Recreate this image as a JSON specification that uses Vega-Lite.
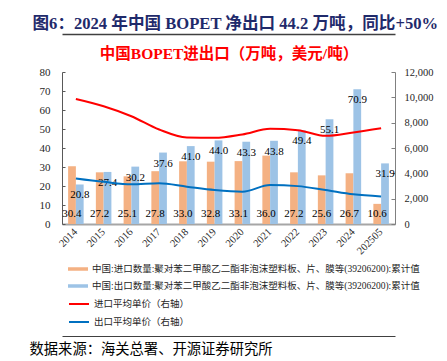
{
  "$schema": "https://vega.github.io/schema/vega-lite/v6.json",
  "width": 333,
  "height": 152,
  "autosize": {"type": "none"},
  "padding": {"left": 62, "top": 72, "right": 52, "bottom": 137},
  "background": "white",
  "config": {
    "view": {"stroke": null},
    "axis": {"grid": false},
    "font": "Liberation Serif, Noto Sans CJK SC"
  },
  "datasets": {
    "qty": [
      {"year": "2014", "series": "中国:进口数量:聚对苯二甲酸乙二酯非泡沫塑料板、片、膜等(39206200):累计值", "value": 30.4},
      {"year": "2015", "series": "中国:进口数量:聚对苯二甲酸乙二酯非泡沫塑料板、片、膜等(39206200):累计值", "value": 27.2},
      {"year": "2016", "series": "中国:进口数量:聚对苯二甲酸乙二酯非泡沫塑料板、片、膜等(39206200):累计值", "value": 25.1},
      {"year": "2017", "series": "中国:进口数量:聚对苯二甲酸乙二酯非泡沫塑料板、片、膜等(39206200):累计值", "value": 27.8},
      {"year": "2018", "series": "中国:进口数量:聚对苯二甲酸乙二酯非泡沫塑料板、片、膜等(39206200):累计值", "value": 33.0},
      {"year": "2019", "series": "中国:进口数量:聚对苯二甲酸乙二酯非泡沫塑料板、片、膜等(39206200):累计值", "value": 32.8},
      {"year": "2020", "series": "中国:进口数量:聚对苯二甲酸乙二酯非泡沫塑料板、片、膜等(39206200):累计值", "value": 33.1},
      {"year": "2021", "series": "中国:进口数量:聚对苯二甲酸乙二酯非泡沫塑料板、片、膜等(39206200):累计值", "value": 36.0},
      {"year": "2022", "series": "中国:进口数量:聚对苯二甲酸乙二酯非泡沫塑料板、片、膜等(39206200):累计值", "value": 27.2},
      {"year": "2023", "series": "中国:进口数量:聚对苯二甲酸乙二酯非泡沫塑料板、片、膜等(39206200):累计值", "value": 25.6},
      {"year": "2024", "series": "中国:进口数量:聚对苯二甲酸乙二酯非泡沫塑料板、片、膜等(39206200):累计值", "value": 26.7},
      {"year": "202505", "series": "中国:进口数量:聚对苯二甲酸乙二酯非泡沫塑料板、片、膜等(39206200):累计值", "value": 10.6},
      {"year": "2014", "series": "中国:出口数量:聚对苯二甲酸乙二酯非泡沫塑料板、片、膜等(39206200):累计值", "value": 20.8},
      {"year": "2015", "series": "中国:出口数量:聚对苯二甲酸乙二酯非泡沫塑料板、片、膜等(39206200):累计值", "value": 27.4},
      {"year": "2016", "series": "中国:出口数量:聚对苯二甲酸乙二酯非泡沫塑料板、片、膜等(39206200):累计值", "value": 30.2},
      {"year": "2017", "series": "中国:出口数量:聚对苯二甲酸乙二酯非泡沫塑料板、片、膜等(39206200):累计值", "value": 37.6},
      {"year": "2018", "series": "中国:出口数量:聚对苯二甲酸乙二酯非泡沫塑料板、片、膜等(39206200):累计值", "value": 41.0},
      {"year": "2019", "series": "中国:出口数量:聚对苯二甲酸乙二酯非泡沫塑料板、片、膜等(39206200):累计值", "value": 44.0},
      {"year": "2020", "series": "中国:出口数量:聚对苯二甲酸乙二酯非泡沫塑料板、片、膜等(39206200):累计值", "value": 43.3},
      {"year": "2021", "series": "中国:出口数量:聚对苯二甲酸乙二酯非泡沫塑料板、片、膜等(39206200):累计值", "value": 43.8},
      {"year": "2022", "series": "中国:出口数量:聚对苯二甲酸乙二酯非泡沫塑料板、片、膜等(39206200):累计值", "value": 49.4},
      {"year": "2023", "series": "中国:出口数量:聚对苯二甲酸乙二酯非泡沫塑料板、片、膜等(39206200):累计值", "value": 55.1},
      {"year": "2024", "series": "中国:出口数量:聚对苯二甲酸乙二酯非泡沫塑料板、片、膜等(39206200):累计值", "value": 70.9},
      {"year": "202505", "series": "中国:出口数量:聚对苯二甲酸乙二酯非泡沫塑料板、片、膜等(39206200):累计值", "value": 31.9}
    ],
    "price": [
      {"year": "2014", "series": "进口平均单价（右轴）", "price": 9870},
      {"year": "2015", "series": "进口平均单价（右轴）", "price": 9300},
      {"year": "2016", "series": "进口平均单价（右轴）", "price": 8510},
      {"year": "2017", "series": "进口平均单价（右轴）", "price": 7460},
      {"year": "2018", "series": "进口平均单价（右轴）", "price": 6830},
      {"year": "2019", "series": "进口平均单价（右轴）", "price": 6800},
      {"year": "2020", "series": "进口平均单价（右轴）", "price": 7070},
      {"year": "2021", "series": "进口平均单价（右轴）", "price": 7510},
      {"year": "2022", "series": "进口平均单价（右轴）", "price": 7410},
      {"year": "2023", "series": "进口平均单价（右轴）", "price": 6960},
      {"year": "2024", "series": "进口平均单价（右轴）", "price": 7230},
      {"year": "202505", "series": "进口平均单价（右轴）", "price": 7560},
      {"year": "2014", "series": "出口平均单价（右轴）", "price": 3600},
      {"year": "2015", "series": "出口平均单价（右轴）", "price": 3330},
      {"year": "2016", "series": "出口平均单价（右轴）", "price": 3130},
      {"year": "2017", "series": "出口平均单价（右轴）", "price": 3210},
      {"year": "2018", "series": "出口平均单价（右轴）", "price": 2940},
      {"year": "2019", "series": "出口平均单价（右轴）", "price": 2680},
      {"year": "2020", "series": "出口平均单价（右轴）", "price": 2550},
      {"year": "2021", "series": "出口平均单价（右轴）", "price": 3070},
      {"year": "2022", "series": "出口平均单价（右轴）", "price": 2990},
      {"year": "2023", "series": "出口平均单价（右轴）", "price": 2680},
      {"year": "2024", "series": "出口平均单价（右轴）", "price": 2340},
      {"year": "202505", "series": "出口平均单价（右轴）", "price": 2180}
    ]
  },
  "layer": [
    {
      "data": {"name": "qty"},
      "encoding": {
        "xOffset": {
          "field": "series",
          "type": "nominal",
          "sort": [
            "中国:进口数量:聚对苯二甲酸乙二酯非泡沫塑料板、片、膜等(39206200):累计值",
            "中国:出口数量:聚对苯二甲酸乙二酯非泡沫塑料板、片、膜等(39206200):累计值"
          ]
        },
        "y": {
          "field": "value",
          "type": "quantitative",
          "scale": {"domain": [0, 80], "nice": false},
          "axis": {
            "orient": "left",
            "title": null,
            "values": [0, 10, 20, 30, 40, 50, 60, 70, 80],
            "tickSize": -3,
            "tickColor": "#595959",
            "domainColor": "#595959",
            "labelFont": "Liberation Serif",
            "labelFontSize": 11,
            "labelColor": "#262626",
            "labelPadding": 15
          }
        }
      },
      "layer": [
        {
          "mark": {"type": "bar"},
          "encoding": {
            "x": {
              "field": "year",
              "type": "nominal",
              "scale": {"paddingInner": 0.44, "paddingOuter": 0.22},
              "axis": {
                "orient": "bottom",
                "title": null,
                "labelAngle": -45,
                "labelAlign": "right",
                "labelBaseline": "middle",
                "labelPadding": 6,
                "labelFont": "Liberation Serif",
                "labelFontSize": 10.5,
                "labelColor": "#262626",
                "ticks": false,
                "domainColor": "#A6A6A6",
                "domainWidth": 2
              }
            },
            "fill": {
              "field": "series",
              "type": "nominal",
              "scale": {
                "domain": [
                  "中国:进口数量:聚对苯二甲酸乙二酯非泡沫塑料板、片、膜等(39206200):累计值",
                  "中国:出口数量:聚对苯二甲酸乙二酯非泡沫塑料板、片、膜等(39206200):累计值"
                ],
                "range": ["#F4B183", "#9DC3E6"]
              },
              "legend": {
                "orient": "none",
                "legendX": 11,
                "legendY": 192,
                "title": null,
                "direction": "vertical",
                "symbolType": "M-2,-0.35H2V0.35H-2Z",
                "symbolSize": 100,
                "symbolStrokeWidth": 0,
                "labelOffset": 9,
                "rowPadding": 7,
                "labelFont": "Liberation Serif, Noto Sans CJK SC",
                "labelFontSize": 9.5,
                "labelColor": "#262626",
                "labelLimit": 500
              }
            }
          }
        },
        {
          "transform": [{"filter": "indexof(datum.series, '进口') >= 0"}],
          "mark": {"type": "text", "dy": -10, "baseline": "middle", "font": "Liberation Serif", "fontSize": 11, "color": "#000000"},
          "encoding": {
            "x": {
              "field": "year",
              "type": "nominal",
              "axis": {
                "orient": "top",
                "labels": false,
                "ticks": false,
                "domain": false,
                "title": "中国BOPET进出口（万吨，美元/吨）",
                "titleColor": "#FF0000",
                "titleFont": "Liberation Serif, Noto Sans CJK SC",
                "titleFontSize": 15.5,
                "titleFontWeight": "bold",
                "titleX": 166.5,
                "titleY": -19,
                "titleAlign": "center",
                "titleBaseline": "middle"
              }
            },
            "y": {"datum": 0, "type": "quantitative"},
            "text": {"field": "value", "type": "quantitative", "format": ".1f"}
          }
        },
        {
          "transform": [{"filter": "indexof(datum.series, '出口') >= 0"}],
          "mark": {"type": "text", "dy": 11, "baseline": "middle", "font": "Liberation Serif", "fontSize": 11, "color": "#000000"},
          "encoding": {
            "x": {
              "field": "year",
              "type": "nominal",
              "axis": {
                "orient": "bottom",
                "offset": 112,
                "labels": false,
                "ticks": false,
                "domainColor": "#404040",
                "domainWidth": 1,
                "title": "数据来源：海关总署、开源证券研究所",
                "titleColor": "#000000",
                "titleFont": "Noto Sans CJK SC",
                "titleFontSize": 14.3,
                "titleFontWeight": "normal",
                "titleX": -33,
                "titleY": 13,
                "titleAlign": "left",
                "titleBaseline": "middle"
              }
            },
            "text": {"field": "value", "type": "quantitative", "format": ".1f"}
          }
        }
      ],
      "resolve": {"axis": {"x": "independent"}}
    },
    {
      "data": {"name": "price"},
      "mark": {"type": "line", "interpolate": "monotone", "strokeWidth": 2},
      "encoding": {
        "x": {
          "field": "year",
          "type": "nominal",
          "axis": {
            "orient": "top",
            "offset": 38,
            "labels": false,
            "ticks": false,
            "domainColor": "#404040",
            "domainWidth": 1.5,
            "title": "图6：2024 年中国 BOPET 净出口 44.2 万吨，同比+50%",
            "titleColor": "#1F2A6B",
            "titleFont": "Liberation Serif, Noto Sans CJK SC",
            "titleFontSize": 16.6,
            "titleFontWeight": "bold",
            "titleX": -30,
            "titleY": -11,
            "titleAlign": "left",
            "titleBaseline": "middle"
          }
        },
        "y": {
          "field": "price",
          "type": "quantitative",
          "scale": {"domain": [0, 12000], "nice": false},
          "axis": {
            "orient": "right",
            "title": null,
            "values": [0, 2000, 4000, 6000, 8000, 10000, 12000],
            "format": ",.0f",
            "tickSize": -4,
            "tickColor": "#808080",
            "domainColor": "#808080",
            "labelFont": "Liberation Serif",
            "labelFontSize": 10.5,
            "labelColor": "#262626",
            "labelPadding": 13
          }
        },
        "stroke": {
          "field": "series",
          "type": "nominal",
          "scale": {
            "domain": ["进口平均单价（右轴）", "出口平均单价（右轴）"],
            "range": ["#FF0000", "#0070C0"]
          },
          "legend": {
            "orient": "none",
            "legendX": 11,
            "legendY": 226,
            "title": null,
            "direction": "vertical",
            "symbolType": "M-2,0H2",
            "symbolSize": 100,
            "symbolStrokeWidth": 2,
            "labelOffset": 9,
            "rowPadding": 7,
            "labelFont": "Liberation Serif, Noto Sans CJK SC",
            "labelFontSize": 9.5,
            "labelColor": "#262626",
            "labelLimit": 500
          }
        }
      }
    }
  ],
  "resolve": {"scale": {"y": "independent"}, "axis": {"x": "independent"}}
}
